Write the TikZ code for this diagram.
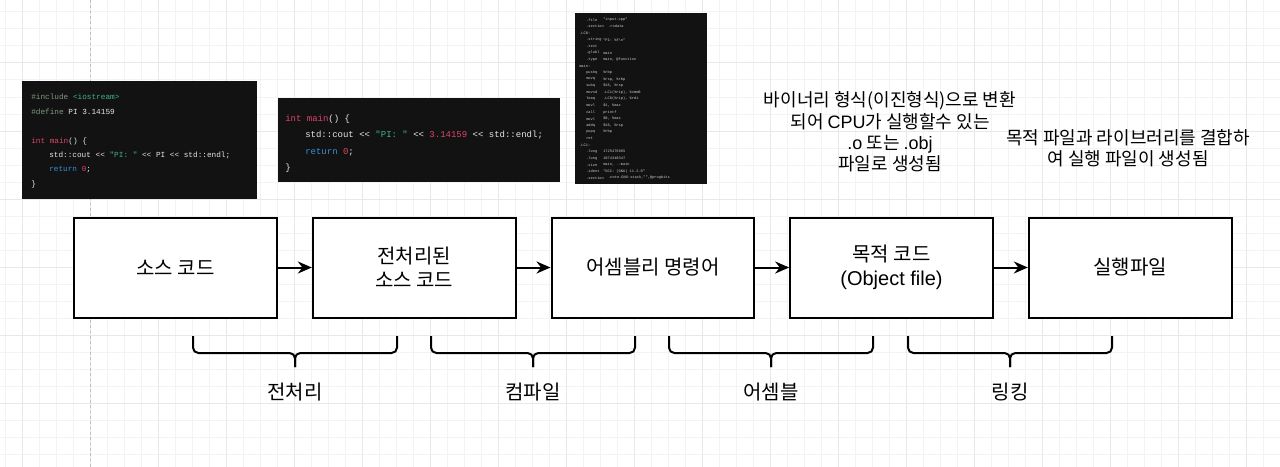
\documentclass[tikz,border=0pt]{standalone}
\usepackage{fontspec}
\setmainfont{Noto Sans CJK KR}
\newfontfamily\latinfont{Liberation Sans}
\setmonofont{Liberation Mono}
\usetikzlibrary{positioning,arrows.meta}

\definecolor{codebg}{HTML}{121212}
\definecolor{codefg}{HTML}{E6E6E6}
\definecolor{codepre}{HTML}{7E9C80}
\definecolor{codestr}{HTML}{3DB389}
\definecolor{codekw}{HTML}{E0446C}
\definecolor{coderet}{HTML}{3A8FD6}
\definecolor{asmfg}{HTML}{CFCFCF}
\definecolor{gridminor}{HTML}{F3F3F3}
\definecolor{gridmajor}{HTML}{E8E8E8}

\tikzset{
  stage/.style={draw, fill=white, line width=1.5pt, minimum width=152pt, minimum height=75pt, align=center, font=\fontsize{15}{18}\selectfont},
  flow/.style={line width=1.5pt, -{Stealth[length=10.5pt,width=9pt]}},
  bracepath/.style={line width=1.5pt, rounded corners=4pt},
  phase/.style={font=\fontsize{15}{18}\selectfont},
  note/.style={align=center, inner sep=0pt, font=\fontsize{13.5}{16}\selectfont},
  codeline/.style={anchor=west, inner sep=0pt, text=codefg, font=\ttfamily\fontsize{5.8}{7}\selectfont},
  codeline2/.style={codeline, font=\ttfamily\fontsize{6.75}{8}\selectfont},
  asmline/.style={anchor=west, inner sep=0pt, text=asmfg, font=\ttfamily\fontsize{2.75}{3.3}\selectfont},
  pageline/.style={draw=black!25, line width=0.75pt, dash pattern=on 2pt off 2pt}
}

\begin{document}
\begin{tikzpicture}[x=0.75pt, y=-0.75pt]
  % background and grid
  \fill[white] (0,0) rectangle (1280,467);
  \useasboundingbox (0,0) rectangle (1280,467);
  \foreach \gx in {5,22,...,1280} \draw[gridminor, line width=0.75pt] (\gx,0) -- (\gx,467);
  \foreach \gy in {12,29,...,467} \draw[gridminor, line width=0.75pt] (0,\gy) -- (1280,\gy);
  \foreach \gx in {22,90,...,1280} \draw[gridmajor, line width=0.75pt] (\gx,0) -- (\gx,467);
  \foreach \gy in {63,131,...,467} \draw[gridmajor, line width=0.75pt] (0,\gy) -- (1280,\gy);
  \draw[pageline] (90,0) -- (90,467);

  % source code
  \fill[codebg] (22,81) rectangle (257,199);
  \node[codeline] (inc) at (31,97) {\textcolor{codepre}{\#include} \textcolor{codestr}{<iostream>}};
  \node[codeline] (def) at (31,112) {\textcolor{codepre}{\#define} PI 3.14159};
  \node[codeline] (mainA) at (31,141) {\textcolor{codekw}{int main}() \{};
  \node[codeline] (coutA) at (49,155) {std::cout << \textcolor{codestr}{"PI: "} << PI << std::endl;};
  \node[codeline] (retA) at (49,170) {\textcolor{coderet}{return} \textcolor{codekw}{0};};
  \node[codeline] (endA) at (31,184) {\}};

  % preprocessed code
  \fill[codebg] (278,98) rectangle (560,182);
  \node[codeline2] (mainB) at (285,119) {\textcolor{codekw}{int main}() \{};
  \node[codeline2] (coutB) at (305,135) {std::cout << \textcolor{codestr}{"PI: "} << \textcolor{codekw}{3.14159} << std::endl;};
  \node[codeline2] (retB) at (305,152) {\textcolor{coderet}{return} \textcolor{codekw}{0};};
  \node[codeline2] (endB) at (285,168) {\}};

  % assembly
  \fill[codebg] (575,13) rectangle (707,184);
  \foreach \i/\m/\o in {0/.file/"input.cpp", 3/.string/"PI: \%f\textbackslash n", 4/.text/, 5/.globl/main,
      6/.type/{main, @function}, 8/pushq/\%rbp, 9/movq/{\%rsp, \%rbp}, 10/subq/{\$16, \%rsp},
      11/movsd/{.LC1(\%rip), \%xmm0}, 12/leaq/{.LC0(\%rip), \%rdi}, 13/movl/{\$1, \%eax}, 14/call/printf,
      15/movl/{\$0, \%eax}, 16/addq/{\$16, \%rsp}, 17/popq/\%rbp, 18/ret/, 20/.long/1725476965,
      21/.long/1074340347, 22/.size/{main, .-main}, 23/.ident/"GCC: (GNU) 11.2.0"} {
    \node[asmline] (am\i) at (586,20+6.58*\i) {\m};
    \node[asmline] (ao\i) at (603,20+6.58*\i) {\o};
  }
  \node[asmline] (am1) at (586,20+6.58*1) {.section};
  \node[asmline] (ao1) at (608,20+6.58*1) {.rodata};
  \node[asmline] (am24) at (586,20+6.58*24) {.section};
  \node[asmline] (ao24) at (608,20+6.58*24) {.note.GNU-stack,"",@progbits};
  \node[asmline] (lcA) at (579,20+6.58*2) {.LC0:};
  \node[asmline] (lmain) at (579,20+6.58*7) {main:};
  \node[asmline] (lcB) at (579,20+6.58*19) {.LC1:};

  % notes
  \node[note] (binnote) at (890,132)
    {바이너리 형식(이진형식)으로 변환\\되어 {\latinfont CPU}가 실행할수 있는\\{\latinfont .o} 또는 {\latinfont .obj}\\파일로 생성됨};
  \node[note] (linknote) at (1128,148)
    {목적 파일과 라이브러리를 결합하\\여 실행 파일이 생성됨};

  % stages
  \node[stage] (src) at (175.5,267.5) {소스 코드};
  \node[stage, right=25.5pt of src] (pre) {전처리된\\소스 코드};
  \node[stage, right=25.5pt of pre] (asm) {어셈블리 명령어};
  \node[stage, right=25.5pt of asm] (obj) {목적 코드\\{\latinfont (Object file)}};
  \node[stage, right=25.5pt of obj] (exe) {실행파일};

  \draw[flow] (src) -- (pre);
  \draw[flow] (pre) -- (asm);
  \draw[flow] (asm) -- (obj);
  \draw[flow] (obj) -- (exe);

  % braces
  \foreach \bx/\name/\txt in {295/prep/전처리, 533/comp/컴파일, 771/asmb/어셈블, 1010/link/링킹} {
    \node[phase] (\name) at (\bx,392) {\txt};
    \draw[bracepath] (\bx-102,336) -- (\bx-102,353) -- (\bx,353) -- (\bx,367);
    \draw[bracepath] (\bx+102,336) -- (\bx+102,353) -- (\bx,353) -- (\bx,367);
  }
\end{tikzpicture}
\end{document}
